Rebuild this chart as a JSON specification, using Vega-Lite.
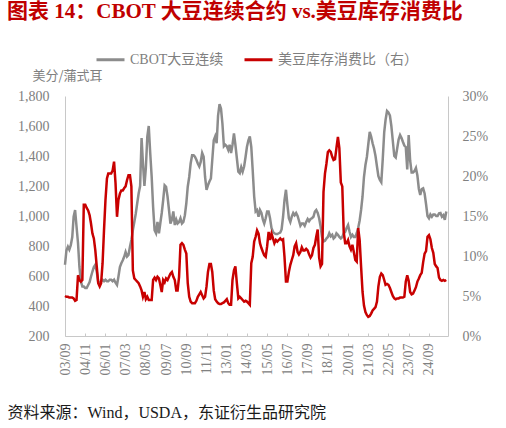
{
  "$schema": "https://vega.github.io/schema/vega-lite/v6.json",
  "width": 383,
  "height": 240,
  "autosize": "none",
  "padding": {"left": 65, "top": 96, "right": 58, "bottom": 92},
  "background": "white",
  "title": {
    "text": "图表 14：CBOT 大豆连续合约 vs.美豆库存消费比",
    "anchor": "start",
    "frame": "group",
    "dx": -58,
    "offset": 22,
    "font": "Liberation Serif, Noto Sans CJK SC",
    "fontSize": 21,
    "fontWeight": "bold",
    "color": "#C00000"
  },
  "config": {"view": {"stroke": null}, "font": "Liberation Serif, Noto Sans CJK SC"},
  "data": {
    "values": [
      {"d": "2003-09", "c": 675, "r": 5.0}, {"d": "2003-10", "c": 770, "r": 4.9}, {"d": "2003-11", "c": 795, "r": 4.9}, {"d": "2003-12", "c": 775, "r": 4.8},
      {"d": "2004-01", "c": 805, "r": 4.8}, {"d": "2004-02", "c": 860, "r": 4.8}, {"d": "2004-03", "c": 995, "r": 4.7}, {"d": "2004-04", "c": 1040, "r": 4.4},
      {"d": "2004-05", "c": 930, "r": 4.5}, {"d": "2004-06", "c": 820, "r": 7.6}, {"d": "2004-07", "c": 660, "r": 7.0}, {"d": "2004-08", "c": 565, "r": 6.8},
      {"d": "2004-09", "c": 530, "r": 7.0}, {"d": "2004-10", "c": 530, "r": 16.4}, {"d": "2004-11", "c": 520, "r": 16.4}, {"d": "2004-12", "c": 520, "r": 16.0},
      {"d": "2005-01", "c": 540, "r": 15.7}, {"d": "2005-02", "c": 560, "r": 15.1}, {"d": "2005-03", "c": 595, "r": 14.1}, {"d": "2005-04", "c": 630, "r": 12.8},
      {"d": "2005-05", "c": 660, "r": 12.2}, {"d": "2005-06", "c": 675, "r": 10.7}, {"d": "2005-07", "c": 630, "r": 8.7}, {"d": "2005-08", "c": 560, "r": 6.6},
      {"d": "2005-09", "c": 550, "r": 6.2}, {"d": "2005-10", "c": 565, "r": 6.6}, {"d": "2005-11", "c": 575, "r": 9.1}, {"d": "2005-12", "c": 565, "r": 13.2},
      {"d": "2006-01", "c": 575, "r": 17.0}, {"d": "2006-02", "c": 565, "r": 19.7}, {"d": "2006-03", "c": 565, "r": 20.3}, {"d": "2006-04", "c": 575, "r": 20.3},
      {"d": "2006-05", "c": 575, "r": 20.3}, {"d": "2006-06", "c": 565, "r": 20.7}, {"d": "2006-07", "c": 575, "r": 21.8}, {"d": "2006-08", "c": 555, "r": 19.1},
      {"d": "2006-09", "c": 540, "r": 14.9}, {"d": "2006-10", "c": 595, "r": 17.0}, {"d": "2006-11", "c": 660, "r": 17.8}, {"d": "2006-12", "c": 685, "r": 18.2},
      {"d": "2007-01", "c": 705, "r": 18.2}, {"d": "2007-02", "c": 730, "r": 18.5}, {"d": "2007-03", "c": 760, "r": 18.7}, {"d": "2007-04", "c": 730, "r": 19.5},
      {"d": "2007-05", "c": 740, "r": 20.1}, {"d": "2007-06", "c": 795, "r": 20.1}, {"d": "2007-07", "c": 840, "r": 18.7}, {"d": "2007-08", "c": 905, "r": 8.2},
      {"d": "2007-09", "c": 960, "r": 7.2}, {"d": "2007-10", "c": 1015, "r": 7.0}, {"d": "2007-11", "c": 1085, "r": 6.8}, {"d": "2007-12", "c": 1150, "r": 6.6},
      {"d": "2008-01", "c": 1200, "r": 6.2}, {"d": "2008-02", "c": 1520, "r": 5.7}, {"d": "2008-03", "c": 1350, "r": 4.9}, {"d": "2008-04", "c": 1200, "r": 5.5},
      {"d": "2008-05", "c": 1320, "r": 4.6}, {"d": "2008-06", "c": 1530, "r": 4.9}, {"d": "2008-07", "c": 1600, "r": 4.5}, {"d": "2008-08", "c": 1420, "r": 4.5},
      {"d": "2008-09", "c": 1260, "r": 4.5}, {"d": "2008-10", "c": 1060, "r": 7.0}, {"d": "2008-11", "c": 905, "r": 7.3}, {"d": "2008-12", "c": 885, "r": 7.0},
      {"d": "2009-01", "c": 960, "r": 7.4}, {"d": "2009-02", "c": 885, "r": 7.2}, {"d": "2009-03", "c": 950, "r": 6.4}, {"d": "2009-04", "c": 1020, "r": 5.5},
      {"d": "2009-05", "c": 1105, "r": 7.0}, {"d": "2009-06", "c": 1205, "r": 6.7}, {"d": "2009-07", "c": 1195, "r": 7.2}, {"d": "2009-08", "c": 1130, "r": 7.0},
      {"d": "2009-09", "c": 1040, "r": 7.4}, {"d": "2009-10", "c": 950, "r": 7.8}, {"d": "2009-11", "c": 975, "r": 8.0}, {"d": "2009-12", "c": 1030, "r": 7.4},
      {"d": "2010-01", "c": 940, "r": 7.0}, {"d": "2010-02", "c": 975, "r": 5.7}, {"d": "2010-03", "c": 950, "r": 5.7}, {"d": "2010-04", "c": 960, "r": 7.4},
      {"d": "2010-05", "c": 985, "r": 11.4}, {"d": "2010-06", "c": 950, "r": 11.6}, {"d": "2010-07", "c": 960, "r": 11.4}, {"d": "2010-08", "c": 1005, "r": 10.8},
      {"d": "2010-09", "c": 1085, "r": 10.3}, {"d": "2010-10", "c": 1195, "r": 6.6}, {"d": "2010-11", "c": 1260, "r": 4.9}, {"d": "2010-12", "c": 1350, "r": 4.3},
      {"d": "2011-01", "c": 1405, "r": 4.1}, {"d": "2011-02", "c": 1405, "r": 4.1}, {"d": "2011-03", "c": 1395, "r": 4.1}, {"d": "2011-04", "c": 1375, "r": 4.4},
      {"d": "2011-05", "c": 1350, "r": 4.9}, {"d": "2011-06", "c": 1330, "r": 5.2}, {"d": "2011-07", "c": 1360, "r": 5.5}, {"d": "2011-08", "c": 1420, "r": 5.1},
      {"d": "2011-09", "c": 1395, "r": 4.7}, {"d": "2011-10", "c": 1260, "r": 4.9}, {"d": "2011-11", "c": 1175, "r": 6.2}, {"d": "2011-12", "c": 1205, "r": 8.0},
      {"d": "2012-01", "c": 1230, "r": 9.0}, {"d": "2012-02", "c": 1250, "r": 9.0}, {"d": "2012-03", "c": 1375, "r": 8.0}, {"d": "2012-04", "c": 1505, "r": 5.7},
      {"d": "2012-05", "c": 1530, "r": 4.6}, {"d": "2012-06", "c": 1485, "r": 4.3}, {"d": "2012-07", "c": 1670, "r": 4.1}, {"d": "2012-08", "c": 1745, "r": 4.0},
      {"d": "2012-09", "c": 1715, "r": 4.0}, {"d": "2012-10", "c": 1615, "r": 4.1}, {"d": "2012-11", "c": 1465, "r": 4.2}, {"d": "2012-12", "c": 1475, "r": 4.4},
      {"d": "2013-01", "c": 1465, "r": 4.6}, {"d": "2013-02", "c": 1440, "r": 4.1}, {"d": "2013-03", "c": 1475, "r": 3.9}, {"d": "2013-04", "c": 1420, "r": 3.9},
      {"d": "2013-05", "c": 1475, "r": 7.0}, {"d": "2013-06", "c": 1550, "r": 8.2}, {"d": "2013-07", "c": 1475, "r": 8.7}, {"d": "2013-08", "c": 1385, "r": 6.6},
      {"d": "2013-09", "c": 1295, "r": 4.7}, {"d": "2013-10", "c": 1285, "r": 4.9}, {"d": "2013-11", "c": 1325, "r": 4.7}, {"d": "2013-12", "c": 1295, "r": 4.5},
      {"d": "2014-01", "c": 1330, "r": 4.3}, {"d": "2014-02", "c": 1395, "r": 4.4}, {"d": "2014-03", "c": 1460, "r": 4.3}, {"d": "2014-04", "c": 1505, "r": 4.1},
      {"d": "2014-05", "c": 1530, "r": 3.9}, {"d": "2014-06", "c": 1460, "r": 9.1}, {"d": "2014-07", "c": 1305, "r": 9.9}, {"d": "2014-08", "c": 1130, "r": 11.8},
      {"d": "2014-09", "c": 1030, "r": 12.4}, {"d": "2014-10", "c": 1040, "r": 13.2}, {"d": "2014-11", "c": 995, "r": 12.8}, {"d": "2014-12", "c": 1040, "r": 11.6},
      {"d": "2015-01", "c": 1020, "r": 11.0}, {"d": "2015-02", "c": 975, "r": 10.5}, {"d": "2015-03", "c": 950, "r": 10.1}, {"d": "2015-04", "c": 985, "r": 9.9},
      {"d": "2015-05", "c": 1030, "r": 11.2}, {"d": "2015-06", "c": 1030, "r": 13.0}, {"d": "2015-07", "c": 985, "r": 12.0}, {"d": "2015-08", "c": 920, "r": 12.8},
      {"d": "2015-09", "c": 895, "r": 12.2}, {"d": "2015-10", "c": 885, "r": 11.6}, {"d": "2015-11", "c": 880, "r": 12.0}, {"d": "2015-12", "c": 880, "r": 11.8},
      {"d": "2016-01", "c": 885, "r": 12.0}, {"d": "2016-02", "c": 890, "r": 12.2}, {"d": "2016-03", "c": 910, "r": 12.0}, {"d": "2016-04", "c": 995, "r": 12.1},
      {"d": "2016-05", "c": 1105, "r": 9.9}, {"d": "2016-06", "c": 1175, "r": 6.8}, {"d": "2016-07", "c": 1075, "r": 6.8}, {"d": "2016-08", "c": 985, "r": 8.0},
      {"d": "2016-09", "c": 960, "r": 8.9}, {"d": "2016-10", "c": 995, "r": 9.5}, {"d": "2016-11", "c": 1020, "r": 10.1}, {"d": "2016-12", "c": 1005, "r": 11.2},
      {"d": "2017-01", "c": 1020, "r": 11.6}, {"d": "2017-02", "c": 1000, "r": 10.5}, {"d": "2017-03", "c": 970, "r": 10.2}, {"d": "2017-04", "c": 935, "r": 10.5},
      {"d": "2017-05", "c": 950, "r": 11.1}, {"d": "2017-06", "c": 950, "r": 10.7}, {"d": "2017-07", "c": 935, "r": 10.7}, {"d": "2017-08", "c": 960, "r": 10.9},
      {"d": "2017-09", "c": 980, "r": 10.7}, {"d": "2017-10", "c": 965, "r": 10.2}, {"d": "2017-11", "c": 980, "r": 9.8}, {"d": "2017-12", "c": 985, "r": 10.1},
      {"d": "2018-01", "c": 995, "r": 11.0}, {"d": "2018-02", "c": 1030, "r": 11.4}, {"d": "2018-03", "c": 1040, "r": 12.4}, {"d": "2018-04", "c": 1020, "r": 13.3},
      {"d": "2018-05", "c": 985, "r": 9.8}, {"d": "2018-06", "c": 930, "r": 8.7}, {"d": "2018-07", "c": 860, "r": 9.0}, {"d": "2018-08", "c": 830, "r": 18.0},
      {"d": "2018-09", "c": 835, "r": 20.3}, {"d": "2018-10", "c": 850, "r": 21.5}, {"d": "2018-11", "c": 860, "r": 23.0}, {"d": "2018-12", "c": 885, "r": 23.2},
      {"d": "2019-01", "c": 865, "r": 23.0}, {"d": "2019-02", "c": 875, "r": 22.4}, {"d": "2019-03", "c": 850, "r": 22.0}, {"d": "2019-04", "c": 860, "r": 22.1},
      {"d": "2019-05", "c": 885, "r": 23.5}, {"d": "2019-06", "c": 875, "r": 24.9}, {"d": "2019-07", "c": 860, "r": 23.5}, {"d": "2019-08", "c": 850, "r": 19.2},
      {"d": "2019-09", "c": 860, "r": 18.7}, {"d": "2019-10", "c": 885, "r": 13.0}, {"d": "2019-11", "c": 895, "r": 11.6}, {"d": "2019-12", "c": 920, "r": 11.6},
      {"d": "2020-01", "c": 940, "r": 12.0}, {"d": "2020-02", "c": 895, "r": 11.2}, {"d": "2020-03", "c": 860, "r": 10.8}, {"d": "2020-04", "c": 875, "r": 11.4},
      {"d": "2020-05", "c": 860, "r": 10.5}, {"d": "2020-06", "c": 860, "r": 9.5}, {"d": "2020-07", "c": 885, "r": 9.3}, {"d": "2020-08", "c": 920, "r": 13.5},
      {"d": "2020-09", "c": 970, "r": 12.0}, {"d": "2020-10", "c": 1040, "r": 8.7}, {"d": "2020-11", "c": 1130, "r": 5.5}, {"d": "2020-12", "c": 1260, "r": 3.8},
      {"d": "2021-01", "c": 1340, "r": 3.0}, {"d": "2021-02", "c": 1395, "r": 2.6}, {"d": "2021-03", "c": 1475, "r": 2.4}, {"d": "2021-04", "c": 1560, "r": 2.5},
      {"d": "2021-05", "c": 1530, "r": 2.8}, {"d": "2021-06", "c": 1485, "r": 3.2}, {"d": "2021-07", "c": 1450, "r": 3.4}, {"d": "2021-08", "c": 1400, "r": 3.6},
      {"d": "2021-09", "c": 1330, "r": 4.3}, {"d": "2021-10", "c": 1265, "r": 6.2}, {"d": "2021-11", "c": 1240, "r": 7.4}, {"d": "2021-12", "c": 1225, "r": 7.8},
      {"d": "2022-01", "c": 1380, "r": 7.6}, {"d": "2022-02", "c": 1560, "r": 7.0}, {"d": "2022-03", "c": 1640, "r": 6.4}, {"d": "2022-04", "c": 1700, "r": 6.5},
      {"d": "2022-05", "c": 1690, "r": 6.4}, {"d": "2022-06", "c": 1670, "r": 6.0}, {"d": "2022-07", "c": 1600, "r": 5.5}, {"d": "2022-08", "c": 1500, "r": 5.0},
      {"d": "2022-09", "c": 1400, "r": 4.7}, {"d": "2022-10", "c": 1390, "r": 4.6}, {"d": "2022-11", "c": 1450, "r": 4.7}, {"d": "2022-12", "c": 1510, "r": 4.7},
      {"d": "2023-01", "c": 1540, "r": 4.8}, {"d": "2023-02", "c": 1520, "r": 4.8}, {"d": "2023-03", "c": 1495, "r": 4.8}, {"d": "2023-04", "c": 1470, "r": 4.9},
      {"d": "2023-05", "c": 1460, "r": 6.8}, {"d": "2023-06", "c": 1310, "r": 7.6}, {"d": "2023-07", "c": 1540, "r": 6.9}, {"d": "2023-08", "c": 1370, "r": 5.5},
      {"d": "2023-09", "c": 1290, "r": 5.2}, {"d": "2023-10", "c": 1290, "r": 5.3}, {"d": "2023-11", "c": 1300, "r": 5.7}, {"d": "2023-12", "c": 1320, "r": 6.1},
      {"d": "2024-01", "c": 1270, "r": 6.8}, {"d": "2024-02", "c": 1180, "r": 7.2}, {"d": "2024-03", "c": 1140, "r": 7.6}, {"d": "2024-04", "c": 1180, "r": 7.9},
      {"d": "2024-05", "c": 1185, "r": 9.2}, {"d": "2024-06", "c": 1150, "r": 10.3}, {"d": "2024-07", "c": 1080, "r": 10.6}, {"d": "2024-08", "c": 1000, "r": 12.4},
      {"d": "2024-09", "c": 985, "r": 12.6}, {"d": "2024-10", "c": 1010, "r": 12.1}, {"d": "2024-11", "c": 995, "r": 11.0}, {"d": "2024-12", "c": 1010, "r": 10.4},
      {"d": "2025-01", "c": 1010, "r": 9.0}, {"d": "2025-02", "c": 1000, "r": 8.7}, {"d": "2025-03", "c": 1000, "r": 8.5}, {"d": "2025-04", "c": 1018, "r": 7.3},
      {"d": "2025-05", "c": 1020, "r": 7.0}, {"d": "2025-06", "c": 995, "r": 6.9}, {"d": "2025-07", "c": 1005, "r": 7.0}, {"d": "2025-08", "c": 975, "r": 6.9},
      {"d": "2025-09", "c": 1030, "r": 7.0}
    ]
  },
  "encoding": {
    "x": {
      "field": "d",
      "type": "temporal",
      "scale": {
        "type": "utc",
        "domain": [
          {"year": 2003, "month": 9, "date": 1, "utc": true},
          {"year": 2025, "month": 10, "date": 7, "utc": true}
        ]
      },
      "axis": {
        "values": [
          {"year": 2003, "month": 9, "utc": true}, {"year": 2004, "month": 11, "utc": true},
          {"year": 2006, "month": 1, "utc": true}, {"year": 2007, "month": 3, "utc": true},
          {"year": 2008, "month": 5, "utc": true}, {"year": 2009, "month": 7, "utc": true},
          {"year": 2010, "month": 9, "utc": true}, {"year": 2011, "month": 11, "utc": true},
          {"year": 2013, "month": 1, "utc": true}, {"year": 2014, "month": 3, "utc": true},
          {"year": 2015, "month": 5, "utc": true}, {"year": 2016, "month": 7, "utc": true},
          {"year": 2017, "month": 9, "utc": true}, {"year": 2018, "month": 11, "utc": true},
          {"year": 2020, "month": 1, "utc": true}, {"year": 2021, "month": 3, "utc": true},
          {"year": 2022, "month": 5, "utc": true}, {"year": 2023, "month": 7, "utc": true},
          {"year": 2024, "month": 9, "utc": true}
        ],
        "labelExpr": "utcFormat(datum.value, '%y/%m')",
        "labelAngle": 270,
        "labelFont": "Liberation Serif",
        "labelFontSize": 14,
        "labelColor": "#808080",
        "labelPadding": 10,
        "domainColor": "#C8C8C8",
        "tickColor": "#C8C8C8",
        "tickSize": -3,
        "grid": false,
        "title": "资料来源：Wind，USDA，东证衍生品研究院",
        "titleX": -58,
        "titleY": 76,
        "titleAlign": "left",
        "titleBaseline": "middle",
        "titleFont": "Liberation Serif, Noto Sans CJK SC",
        "titleFontSize": 16,
        "titleFontWeight": "normal",
        "titleColor": "#1A1A1A"
      }
    }
  },
  "layer": [
    {
      "mark": {"type": "line", "strokeWidth": 2.5},
      "encoding": {
        "y": {
          "field": "c",
          "type": "quantitative",
          "scale": {"domain": [200, 1800]},
          "axis": {
            "values": [200, 400, 600, 800, 1000, 1200, 1400, 1600, 1800],
            "format": ",.0f",
            "ticks": false,
            "grid": false,
            "labelPadding": 16,
            "labelFont": "Liberation Serif",
            "labelFontSize": 14,
            "labelColor": "#808080",
            "domainColor": "#C8C8C8",
            "title": "美分/蒲式耳",
            "titleAngle": 0,
            "titleX": -33,
            "titleY": -21,
            "titleAlign": "left",
            "titleBaseline": "middle",
            "titleFont": "Noto Sans CJK SC",
            "titleFontSize": 13,
            "titleFontWeight": "normal",
            "titleColor": "#808080"
          }
        },
        "color": {
          "datum": "CBOT大豆连续",
          "type": "nominal",
          "scale": {
            "domain": ["CBOT大豆连续", "美豆库存消费比（右）"],
            "range": ["#8C8C8C", "#C80000"]
          },
          "legend": {
            "orient": "none",
            "legendX": 30,
            "legendY": -52,
            "direction": "horizontal",
            "title": null,
            "symbolType": "stroke",
            "symbolSize": 784,
            "symbolStrokeWidth": 3,
            "labelFont": "Liberation Serif, Noto Sans CJK SC",
            "labelFontSize": 14,
            "labelColor": "#7F7F7F",
            "labelLimit": 300,
            "labelOffset": 4,
            "columnPadding": 14
          }
        }
      }
    },
    {
      "mark": {"type": "line", "strokeWidth": 2.5},
      "encoding": {
        "y": {
          "field": "r",
          "type": "quantitative",
          "scale": {"domain": [0, 30]},
          "axis": {
            "orient": "right",
            "values": [0, 5, 10, 15, 20, 25, 30],
            "labelExpr": "datum.value + '%'",
            "ticks": false,
            "grid": false,
            "labelPadding": 14,
            "labelFont": "Liberation Serif",
            "labelFontSize": 14,
            "labelColor": "#808080",
            "domainColor": "#C8C8C8",
            "title": null
          }
        },
        "color": {"datum": "美豆库存消费比（右）", "type": "nominal"}
      }
    }
  ],
  "resolve": {"scale": {"y": "independent"}}
}
